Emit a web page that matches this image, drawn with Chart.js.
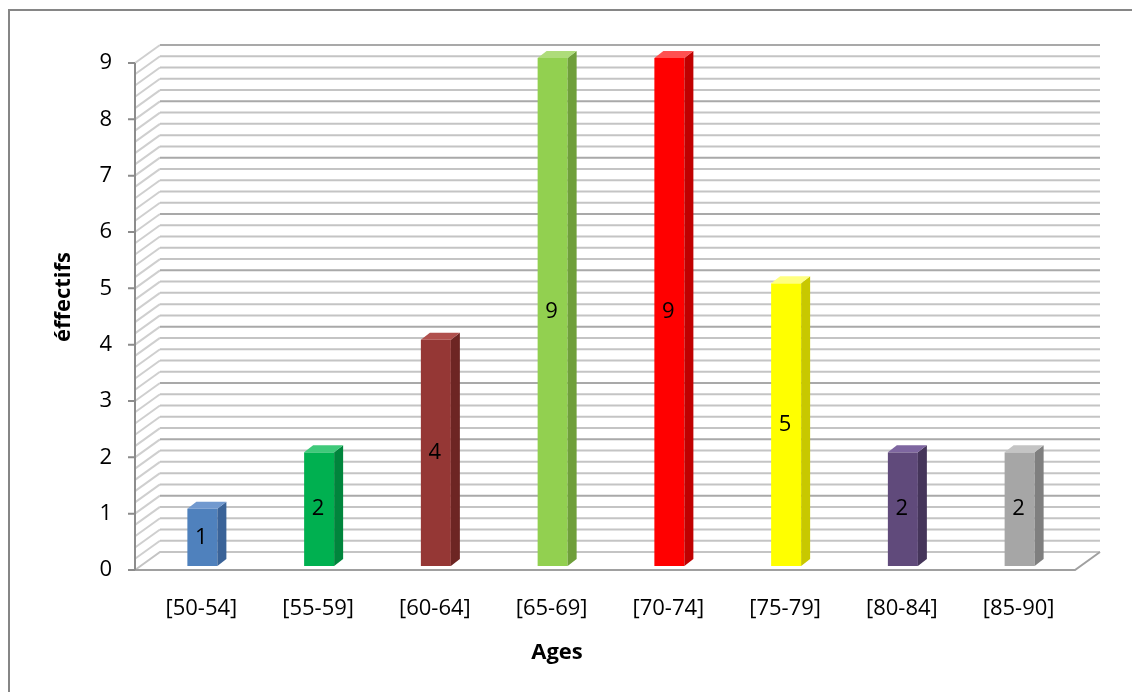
<!DOCTYPE html>
<html>
<head>
<meta charset="utf-8">
<script src="https://cdn.jsdelivr.net/npm/chart.js@4.4.1/dist/chart.umd.min.js"></script>
<style>
    html, body { margin: 0; padding: 0; background: #fff; }
    canvas { display: block; }
</style>
</head>
<body>
<canvas id="ageChart" width="1132" height="692"></canvas>
<script>
const categories = ['[50-54]', '[55-59]', '[60-64]', '[65-69]', '[70-74]', '[75-79]', '[80-84]', '[85-90]'];
const effectifs = [1, 2, 4, 9, 9, 5, 2, 2];
const yMax = 9;
const yMinorStep = 0.2;
const yTitle = 'éffectifs';
const xTitle = 'Ages';

// front / side / top de chaque colonne
const frontColors = ['#4f81bd', '#00b050', '#953735', '#92d050', '#ff0000', '#ffff00', '#604a7b', '#a6a6a6'];
const sideColors = ['#3a6398', '#00853c', '#6d2523', '#6f9f3a', '#c00000', '#c8c800', '#45355a', '#7f7f7f'];
const topColors = ['#7199cf', '#3fc97a', '#b0504d', '#aedc7a', '#ff5050', '#ffff80', '#7e66a0', '#c4c4c4'];

const FONT = '"Open Sans", "Noto Sans", sans-serif';

const excel3d = {
    id: 'excel3d',
    beforeDraw(chart) {
        const { ctx } = chart;
        ctx.save();
        // cadre
        ctx.strokeStyle = '#868686';
        ctx.lineWidth = 2;
        ctx.beginPath();
        ctx.moveTo(9, 692);
        ctx.lineTo(9, 10);
        ctx.lineTo(1132, 10);
        ctx.stroke();
        ctx.restore();
    },
    beforeDatasetsDraw(chart) {
        const { ctx, chartArea, scales: { y } } = chart;
        const fx = chartArea.left - 8;
        const fr = chartArea.right - 2;
        const dx = 25, dy = -18;
        const steps = Math.round(yMax / yMinorStep);

        ctx.save();
        for (let k = 1; k <= steps; k++) {
            const py = y.getPixelForValue(k * yMinorStep);
            const major = k % 5 === 0;
            // mur gauche
            ctx.beginPath();
            ctx.strokeStyle = '#cfcfcf';
            ctx.lineWidth = 2;
            ctx.moveTo(fx, py);
            ctx.lineTo(fx + dx, py + dy);
            ctx.stroke();
            // mur du fond
            ctx.beginPath();
            ctx.strokeStyle = major ? '#a9a9a9' : '#c4c4c4';
            ctx.lineWidth = 2;
            ctx.moveTo(fx + dx, py + dy);
            ctx.lineTo(fr + dx, py + dy);
            ctx.stroke();
        }

        // sol
        const p0 = y.getPixelForValue(0);
        ctx.beginPath();
        ctx.strokeStyle = '#c4c4c4';
        ctx.lineWidth = 2;
        ctx.moveTo(fx, p0);
        ctx.lineTo(fx + dx, p0 + dy);
        ctx.lineTo(fr + dx, p0 + dy);
        ctx.stroke();
        ctx.beginPath();
        ctx.strokeStyle = '#a0a0a0';
        ctx.moveTo(fr + dx, p0 + dy);
        ctx.lineTo(fr, p0);
        ctx.lineTo(fx, p0);
        ctx.stroke();

        // axe vertical + graduations
        ctx.beginPath();
        ctx.strokeStyle = '#8c8c8c';
        ctx.lineWidth = 2;
        ctx.moveTo(fx, y.getPixelForValue(yMax));
        ctx.lineTo(fx, p0);
        for (let v = 0; v <= yMax; v++) {
            const py = y.getPixelForValue(v);
            ctx.moveTo(fx - 7, py);
            ctx.lineTo(fx, py);
        }
        ctx.stroke();
        ctx.restore();
    },
    afterDatasetsDraw(chart) {
        const { ctx } = chart;
        const meta = chart.getDatasetMeta(0);
        const bx = 9, by = -7;

        ctx.save();
        meta.data.forEach((bar, i) => {
            const left = bar.x - bar.width / 2 + 1;
            const right = bar.x + bar.width / 2 + 1;
            const top = bar.y - 5;
            const bottom = bar.base - 4;

            // face avant
            ctx.fillStyle = frontColors[i];
            ctx.fillRect(left, top, right - left, bottom - top);

            // côté
            ctx.beginPath();
            ctx.moveTo(right, top);
            ctx.lineTo(right + bx, top + by);
            ctx.lineTo(right + bx, bottom + by);
            ctx.lineTo(right, bottom);
            ctx.closePath();
            ctx.fillStyle = sideColors[i];
            ctx.fill();

            // dessus
            ctx.beginPath();
            ctx.moveTo(left, top);
            ctx.lineTo(left + bx, top + by);
            ctx.lineTo(right + bx, top + by);
            ctx.lineTo(right, top);
            ctx.closePath();
            ctx.fillStyle = topColors[i];
            ctx.fill();

            // étiquette
            ctx.fillStyle = '#000';
            ctx.font = '22px ' + FONT;
            ctx.textAlign = 'center';
            ctx.textBaseline = 'middle';
            ctx.fillText(String(effectifs[i]), bar.x, (top + bottom) / 2);
        });
        ctx.restore();
    },
    afterDraw(chart) {
        const { ctx } = chart;
        ctx.save();
        ctx.fillStyle = '#000';
        ctx.font = 'bold 22px ' + FONT;
        ctx.textAlign = 'center';
        ctx.textBaseline = 'middle';
        ctx.fillText(xTitle, 557, 653);
        ctx.translate(64, 297);
        ctx.rotate(-Math.PI / 2);
        ctx.fillText(yTitle, 0, 0);
        ctx.restore();
    }
};

new Chart(document.getElementById('ageChart'), {
    type: 'bar',
    data: {
        labels: categories,
        datasets: [{
            data: effectifs,
            backgroundColor: 'rgba(0,0,0,0)',
            barThickness: 30
        }]
    },
    options: {
        responsive: false,
        animation: false,
        layout: {
            padding: { top: 63, right: 55, bottom: 0, left: 0 }
        },
        plugins: {
            legend: { display: false },
            tooltip: { enabled: false }
        },
        scales: {
            x: {
                grid: { display: false },
                border: { display: false },
                ticks: {
                    color: '#000',
                    padding: 18,
                    font: { family: FONT, size: 22 }
                },
                afterFit: function (scale) { scale.height = 122; }
            },
            y: {
                min: 0,
                max: yMax,
                grid: { display: false },
                border: { display: false },
                ticks: {
                    stepSize: 1,
                    color: '#000',
                    padding: 23,
                    font: { family: FONT, size: 22 }
                },
                afterFit: function (scale) { scale.width = 143; }
            }
        }
    },
    plugins: [excel3d]
});
</script>
</body>
</html>
